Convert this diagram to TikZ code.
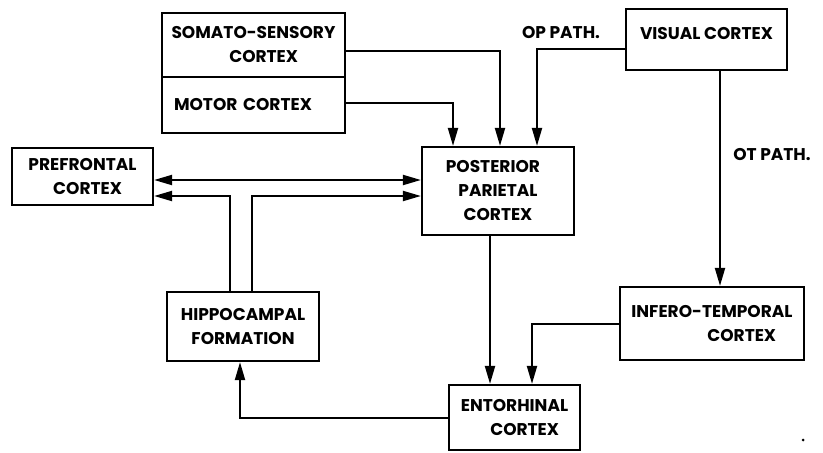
\documentclass[tikz,border=0pt]{standalone}
\usepackage{fontspec}
\setmainfont{Poppins}
\usetikzlibrary{arrows.meta,calc}
\begin{document}
\begin{tikzpicture}[x=1pt,y=-1pt,
  box/.style={draw,line width=2.2pt,rectangle,inner sep=0pt,align=center,font=\fontsize{17}{24}\selectfont\bfseries},
  lbl/.style={inner sep=0pt,font=\fontsize{17}{24}\selectfont\bfseries},
  arr/.style={line width=2pt,-{Triangle[length=18pt,width=10pt]}},
  darr/.style={line width=2pt,{Triangle[length=18pt,width=10pt]}-{Triangle[length=18pt,width=10pt]}}]
\useasboundingbox (0,0) rectangle (823,453);
\node[box,minimum width=183pt,minimum height=64pt] (somato) at (253.5,45) {SOMATO-SENSORY\\\hspace*{1.2em}CORTEX};
\node[box,minimum width=183pt,minimum height=56pt,text width=159pt,align=left] (motor) at (253.5,105) {MOTOR CORTEX};
\node[box,minimum width=161pt,minimum height=61pt,text depth=13pt] (visual) at (706.5,39.5) {VISUAL CORTEX};
\node[box,minimum width=141pt,minimum height=57pt] (prefrontal) at (82.5,176.5) {PREFRONTAL\\\hspace*{0.6em}CORTEX};
\node[box,minimum width=152pt,minimum height=88pt] (pp) at (498,191) {POSTERIOR\hspace*{0.6em}\\PARIETAL\\CORTEX};
\node[box,minimum width=152pt,minimum height=69pt] (hippo) at (243,326.5) {HIPPOCAMPAL\\FORMATION};
\node[box,minimum width=184pt,minimum height=73pt] (it) at (712,323.5) {INFERO-TEMPORAL\\\hspace*{3.5em}CORTEX};
\node[box,minimum width=131pt,minimum height=65pt] (ent) at (514.5,417.5) {ENTORHINAL\\\hspace*{1.2em}CORTEX};
\node[lbl] (op) at (561,33) {OP PATH.};
\node[lbl] (ot) at (772,155) {OT PATH.};
\node[circle,fill,inner sep=0pt,minimum size=3pt] (dot) at (803,440) {};
% connectors
\draw[arr] ([yshift=-6pt]somato.east) -| ([xshift=2pt]pp.north);
\draw[arr] ([yshift=2pt]motor.east) -| ([xshift=-45pt]pp.north);
\draw[arr] ([yshift=-9.5pt]visual.west) -| ([xshift=39pt]pp.north);
\draw[arr] ([xshift=13.5pt]visual.south) -- ([xshift=13.5pt]visual.south |- it.north);
\draw[arr] (it.west) -| ([xshift=17.5pt]ent.north);
\draw[arr] ([xshift=-8pt]pp.south) -- ([xshift=-8pt]pp.south |- ent.north);
\draw[arr] (ent.west) -| ([xshift=-3pt]hippo.south);
\draw[darr] ([yshift=-3.5pt]prefrontal.east) -- ([yshift=-3.5pt]prefrontal.east -| pp.west);
\draw[arr] ([xshift=-13pt]hippo.north) |- ([yshift=-19.5pt]prefrontal.east);
\draw[arr] ([xshift=9pt]hippo.north) |- ([yshift=-5pt]pp.west);
\end{tikzpicture}
\end{document}
